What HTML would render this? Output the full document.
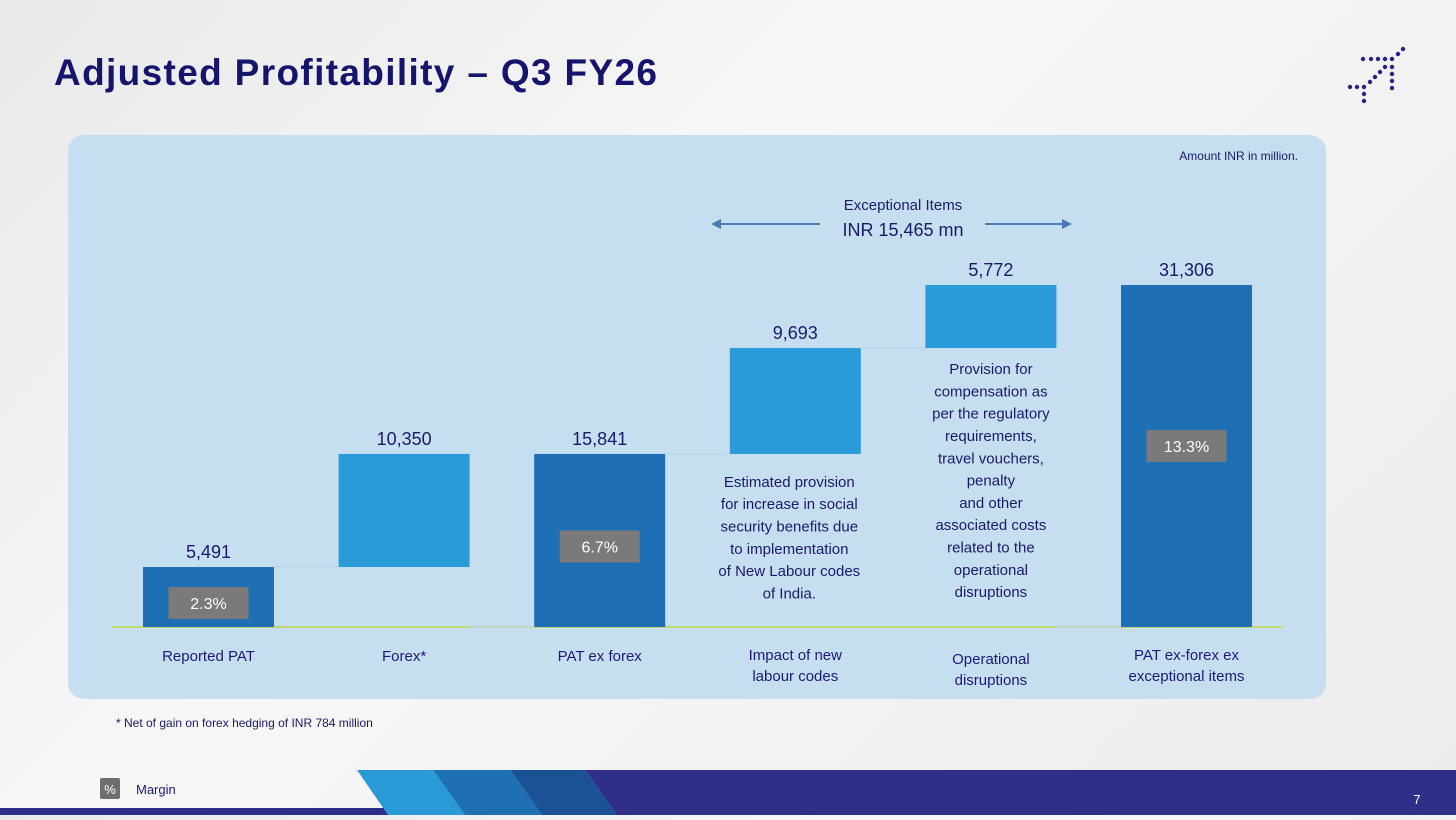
<!DOCTYPE html>
<html><head><meta charset="utf-8">
<style>
html,body{margin:0;padding:0;}
body{width:1456px;height:815px;overflow:hidden;background:linear-gradient(135deg,#e9e9e9 0%,#f7f7f7 40%,#ececec 100%);font-family:"Liberation Sans",sans-serif;}
svg text{font-family:"Liberation Sans",sans-serif;}
</style></head>
<body>
<svg width="1456" height="815" viewBox="0 0 1456 815">
<text x="54" y="85" font-size="37" font-weight="bold" fill="#15156e" textLength="603" lengthAdjust="spacing">Adjusted Profitability – Q3 FY26</text>
<g fill="#23238a">
<circle cx="1403" cy="49" r="2.2"/><circle cx="1398" cy="54" r="2.2"/>
<circle cx="1363" cy="59" r="2.2"/><circle cx="1371" cy="59" r="2.2"/><circle cx="1378" cy="59" r="2.2"/><circle cx="1385" cy="59" r="2.2"/><circle cx="1392" cy="59" r="2.2"/>
<circle cx="1385" cy="67" r="2.2"/><circle cx="1392" cy="67" r="2.2"/><circle cx="1380" cy="72" r="2.2"/><circle cx="1392" cy="74" r="2.2"/>
<circle cx="1375" cy="77" r="2.2"/><circle cx="1370" cy="82" r="2.2"/><circle cx="1392" cy="81" r="2.2"/><circle cx="1392" cy="88" r="2.2"/>
<circle cx="1350" cy="87" r="2.2"/><circle cx="1357" cy="87" r="2.2"/><circle cx="1364" cy="87" r="2.2"/><circle cx="1364" cy="94" r="2.2"/><circle cx="1364" cy="101" r="2.2"/>
</g>
<rect x="68" y="135" width="1258" height="564" rx="16" fill="#c5dff0"/>
<text x="1298" y="160" font-size="12" fill="#1a1a6a" text-anchor="end">Amount INR in million.</text>
<text x="903" y="210" font-size="15" fill="#1a1a6a" text-anchor="middle">Exceptional Items</text>
<text x="903" y="236" font-size="18" fill="#1a1a6a" text-anchor="middle">INR 15,465 mn</text>
<g stroke="#4a7ab8" stroke-width="2" fill="#4a7ab8">
<line x1="718" y1="224" x2="820" y2="224"/><polygon points="711,224 721,219 721,229" stroke="none"/>
<line x1="985" y1="224" x2="1064" y2="224"/><polygon points="1072,224 1062,219 1062,229" stroke="none"/>
</g>
<g id="chart"></g>
<text x="116" y="727" font-size="12" fill="#1a1a6a">* Net of gain on forex hedging of INR 784 million</text>
<rect x="100" y="778" width="20" height="21" rx="2" fill="#6e6e6e"/>
<text x="110" y="794" font-size="13" fill="#fff" text-anchor="middle">%</text>
<text x="136" y="794" font-size="13" fill="#1a1a7a">Margin</text>
<rect x="0" y="808" width="400" height="7" fill="#2e2e88"/>
<polygon points="357,770 433,770 465,815 388,815" fill="#2a9ad6"/>
<polygon points="433,770 510,770 542,815 465,815" fill="#1f70b2"/>
<polygon points="510,770 585,770 617,815 542,815" fill="#1a5294"/>
<polygon points="585,770 1456,770 1456,815 617,815" fill="#2f2f88"/>
<text x="1417" y="804" font-size="13" fill="#fff" text-anchor="middle">7</text>
</svg>
<script>
const categories=[["Reported PAT"],["Forex*"],["PAT ex forex"],["Impact of new","labour codes"],["Operational","disruptions"],["PAT ex-forex ex","exceptional items"]];
const deltas=[5491,10350,15841,9693,5772,31306];
const kinds=["total","step","total","step","step","total"];
const valueLabels=["5,491","10,350","15,841","9,693","5,772","31,306"];
const margins=["2.3%",null,"6.7%",null,null,"13.3%"];
const notes=[null,null,null,["Estimated provision","for increase in social","security benefits due","to  implementation","of New Labour codes","of India."],["Provision for","compensation as","per the regulatory","requirements,","travel vouchers,","penalty","and other","associated costs","related to the","operational","disruptions"],null];
const base=627,scale=342/31306,x0=143,step=195.6,bw=131;
const y=v=>base-v*scale;
const g=document.getElementById('chart');
const NS="http://www.w3.org/2000/svg";
function mk(t,a){const e=document.createElementNS(NS,t);for(const k in a)e.setAttribute(k,a[k]);g.appendChild(e);return e;}
const ax=mk('line',{x1:112,x2:1283,y1:base,y2:base,stroke:'#c8d44a','stroke-width':1.5});


let cum=0;
deltas.forEach((d,i)=>{
  let lo,hi;
  if(kinds[i]==='total'){lo=0;hi=d;cum=d;}else{lo=cum;hi=cum+d;cum=hi;}
  if(kinds[i]==='step'&&i===3){lo=deltas[2];hi=lo+d;}
  const bx=x0+i*step;
  if(i>0){mk('line',{x1:bx-65,x2:bx,y1:y(lo),y2:y(lo),stroke:'#b8d2e6','stroke-width':1});}
  const r=mk('rect',{x:bx,y:y(hi),width:bw,height:y(lo)-y(hi),fill:kinds[i]==='total'?'#1e6fb3':'#2a9ad8'});
  
  
  const t=mk('text',{x:bx+bw/2,y:y(hi)-9,'font-size':18,fill:'#1a1a6a','text-anchor':'middle'});
  t.textContent=valueLabels[i];
  
  
  if(margins[i]){
    const my=i===0?y(hi)+20:(y(hi)+y(lo))/2-(i===5?26:10);
    const mr=mk('rect',{x:bx+bw/2-40,y:my,width:80,height:32,fill:'#7a7a7a'});
    
    
    const mt=mk('text',{x:bx+bw/2,y:my+22,'font-size':16,fill:'#fff','text-anchor':'middle'});
    mt.textContent=margins[i];
  }
  categories[i].forEach((l,j)=>{
    const ct=mk('text',{x:bx+bw/2,y:(i>=3?660:661)+j*21+(i===4?4:0),'font-size':15,fill:'#1a1a7a','text-anchor':'middle'});
    ct.textContent=l;
    
    
  });
  if(notes[i]){
    const ny=y(lo)+(i===3?33:26);
    notes[i].forEach((l,j)=>{
      const nt=mk('text',{x:bx+bw/2+(i===3?-6:0),y:ny+j*22.3,'font-size':15,fill:'#1a1a6a','text-anchor':'middle'});
      nt.textContent=l;
      
      
    });
  }
});
</script>
</body></html>
